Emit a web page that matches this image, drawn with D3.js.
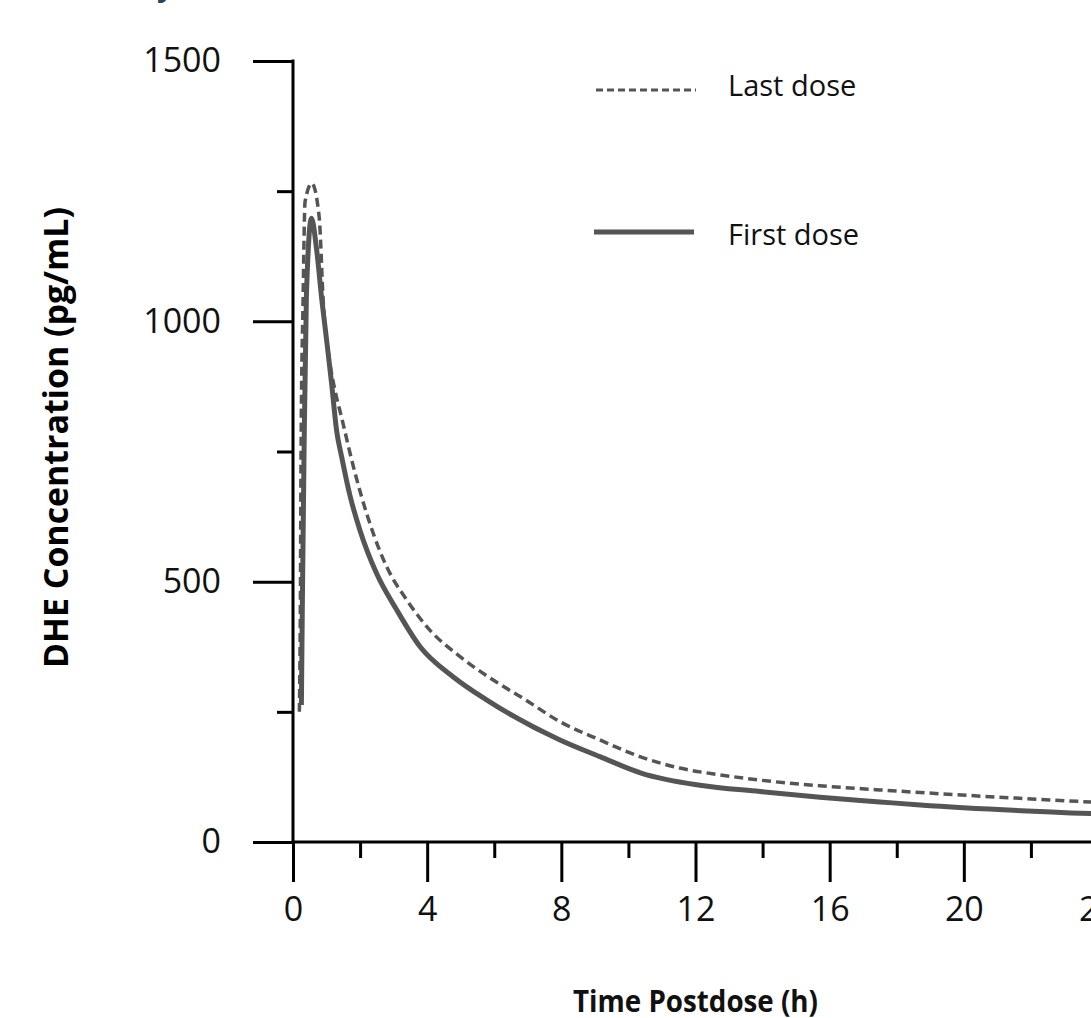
<!DOCTYPE html>
<html>
<head>
<meta charset="utf-8">
<script src="https://cdn.jsdelivr.net/npm/d3@7"></script>
<style>
  html, body { margin: 0; padding: 0; background: #fff; overflow: hidden; }
  svg { display: block; }
  text { font-family: "Open Sans", "DejaVu Sans", sans-serif; }
</style>
</head>
<body>
<script>
// ---- Data ----
const seriesNames = ["Last dose", "First dose"];
const firstDoseTime = [0.25, 0.28, 0.33, 0.40, 0.55, 0.70, 0.86, 1.0, 1.15, 1.3, 1.45, 1.7, 2.0, 2.49, 3.09, 3.79, 4.78, 5.77, 7.96, 9.15, 10.4, 12.13, 13.92, 15.71, 17.5, 18.7, 24];
const firstDoseConc = [263, 465, 753, 1050, 1198, 1140, 1041, 965, 881, 790, 740, 665, 598, 516, 446, 375, 317, 273, 196, 164, 132, 109, 97, 86, 77, 71, 54];
const lastDoseTime = [0.19, 0.22, 0.24, 0.30, 0.36, 0.56, 0.78, 0.90, 1.1, 1.25, 1.45, 1.80, 2.30, 2.79, 3.39, 4.08, 4.98, 5.97, 6.86, 7.96, 9.15, 10.34, 11.53, 12.73, 13.9, 15.7, 17.5, 18.7, 24];
const lastDoseConc = [250, 465, 753, 1041, 1230, 1265, 1201, 1040, 920, 868, 815, 721, 610, 529, 465, 407, 356, 311, 276, 231, 196, 164, 142, 129, 119, 108, 100, 95, 76];
const xMajorTicks = [0, 4, 8, 12, 16, 20, 24];
const xMinorTicks = [2, 6, 10, 14, 18, 22];
const yMajorTicks = [0, 500, 1000, 1500];
const yMinorTicks = [250, 750, 1250];
const yTitle = "DHE Concentration (pg/mL)";
const xTitle = "Time Postdose (h)";

// ---- Layout ----
const W = 1091, H = 1018;
const svg = d3.select("body").append("svg").attr("width", W).attr("height", H);

const x = d3.scaleLinear().domain([0, 24]).range([293, 1098]);
const y = d3.scaleLinear().domain([0, 1500]).range([842, 61]);
const lineColor = "#555555";

// Partial (cut-off) title descender at top
svg.append("text").attr("x", 157).attr("y", -4)
  .attr("font-size", 30).attr("font-weight", 700).attr("fill", "#2a4753").text("y");

// Y axis major
const yAxisMajor = svg.append("g").attr("transform", `translate(${x(0)},0)`)
  .call(d3.axisLeft(y).tickValues(yMajorTicks).tickSize(40).tickPadding(32).tickFormat(d3.format("d")));
// Y axis minor
const yAxisMinor = svg.append("g").attr("transform", `translate(${x(0)},0)`)
  .call(d3.axisLeft(y).tickValues(yMinorTicks).tickSize(16).tickFormat(""));
// X axis major
const xAxisMajor = svg.append("g").attr("transform", `translate(0,${y(0)})`)
  .call(d3.axisBottom(x).tickValues(xMajorTicks).tickSize(40).tickPadding(15).tickFormat(d3.format("d")));
const xAxisMinor = svg.append("g").attr("transform", `translate(0,${y(0)})`)
  .call(d3.axisBottom(x).tickValues(xMinorTicks).tickSize(16).tickFormat(""));

[yAxisMajor, yAxisMinor, xAxisMajor, xAxisMinor].forEach(g => {
  g.selectAll(".tick line").attr("stroke", "#000").attr("stroke-width", 3);
  g.selectAll(".tick text").attr("font-family", "'Open Sans', sans-serif")
    .attr("font-size", 34).attr("fill", "#111");
  g.select("path.domain").remove();
});
svg.append("line").attr("x1", x(0)).attr("x2", x(0)).attr("y1", y(1500) - 1.5).attr("y2", y(0) + 1.5)
  .attr("stroke", "#000").attr("stroke-width", 3);
svg.append("line").attr("x1", x(0) - 1.5).attr("x2", x(24)).attr("y1", y(0)).attr("y2", y(0))
  .attr("stroke", "#000").attr("stroke-width", 3);

// Lines
const line = d3.line().x(d => x(d[0])).y(d => y(d[1])).curve(d3.curveMonotoneX);
const firstData = firstDoseTime.map((t, i) => [t, firstDoseConc[i]]);
const lastData = lastDoseTime.map((t, i) => [t, lastDoseConc[i]]);

svg.append("path").datum(lastData).attr("d", line)
  .attr("fill", "none").attr("stroke", lineColor).attr("stroke-width", 3.5)
  .attr("stroke-dasharray", "9,5");
svg.append("path").datum(firstData).attr("d", line)
  .attr("fill", "none").attr("stroke", lineColor).attr("stroke-width", 5);

// Legend
svg.append("line").attr("x1", 596).attr("x2", 696).attr("y1", 90).attr("y2", 90)
  .attr("stroke", lineColor).attr("stroke-width", 3).attr("stroke-dasharray", "7,4");
svg.append("line").attr("x1", 594).attr("x2", 694).attr("y1", 232).attr("y2", 232)
  .attr("stroke", lineColor).attr("stroke-width", 5);
svg.append("text").attr("x", 728).attr("y", 96).attr("font-size", 29).attr("fill", "#111").text(seriesNames[0]);
svg.append("text").attr("x", 728).attr("y", 245).attr("font-size", 29).attr("fill", "#111").text(seriesNames[1]);

// Axis titles
svg.append("text")
  .attr("transform", `translate(68,437.5) rotate(-90)`)
  .attr("text-anchor", "middle").attr("font-size", 34).attr("font-weight", 700)
  .attr("textLength", 461).attr("lengthAdjust", "spacingAndGlyphs")
  .attr("fill", "#000").text(yTitle);
svg.append("text")
  .attr("x", 695.5).attr("y", 1012)
  .attr("text-anchor", "middle").attr("font-size", 30).attr("font-weight", 700)
  .attr("textLength", 245).attr("lengthAdjust", "spacingAndGlyphs")
  .attr("fill", "#111").text(xTitle);
</script>
</body>
</html>
